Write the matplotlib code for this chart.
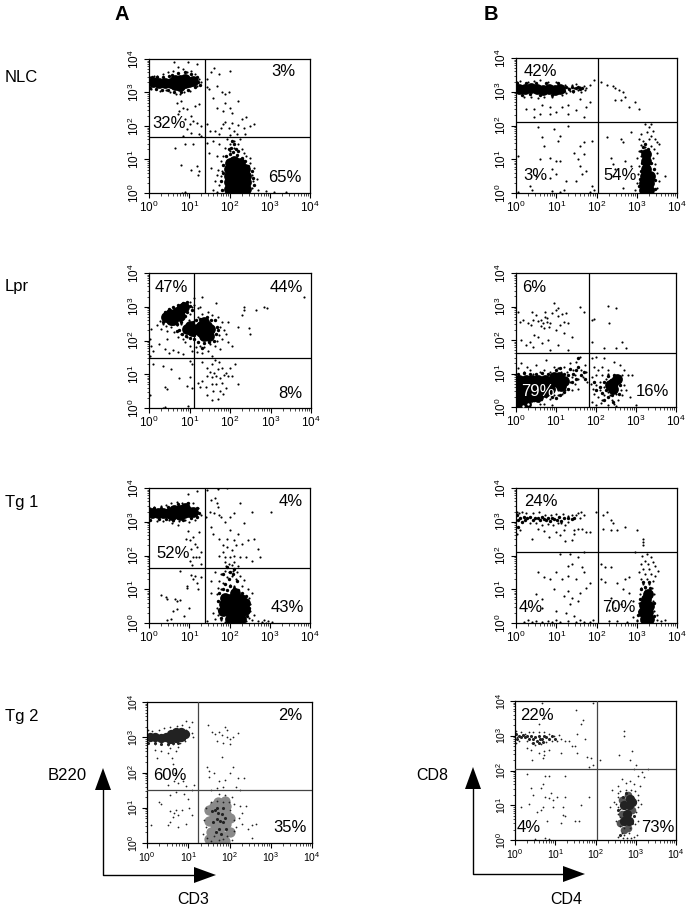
#!/usr/bin/env python3
# Flow cytometry panels, values as log10 decades
from matplotlib import pyplot as plt
from matplotlib.patches import Polygon
from matplotlib.ticker import LogLocator, NullFormatter
from numpy import array

plt.rcParams['font.family'] = ['Liberation Sans', 'DejaVu Sans']
plt.rcParams['mathtext.default'] = 'regular'

row_names = ["NLC", "Lpr", "Tg 1", "Tg 2"]

# gates (x, y) in decades
nlc_a_gate = (1.38, 1.66)
nlc_b_gate = (2.03, 2.09)
lpr_a_gate = (1.11, 1.48)
lpr_b_gate = (1.82, 1.60)
tg1_a_gate = (1.38, 1.63)
tg1_b_gate = (2.03, 2.11)
tg2_a_gate = (1.23, 1.49)
tg2_b_gate = (2.03, 2.04)

# core = solid middle of a population, fringe = crowded edge, dots = single events
nlc_a_core = [(0.1,3.3),(0.25,3.28),(0.4,3.27),(0.55,3.28),(0.65,3.22),(0.65,3.38),(0.78,3.2),(0.78,3.38),
              (0.9,3.27),(0.9,3.4),(1.0,3.3),(1.1,3.33),
              (1.98,0.12),(1.98,0.32),(1.98,0.52),(1.98,0.72),(2.0,0.9),(2.15,0.12),(2.15,0.32),(2.15,0.52),
              (2.15,0.72),(2.12,0.95),(2.3,0.12),(2.3,0.32),(2.3,0.52),(2.3,0.72),(2.27,0.9),(2.42,0.12),
              (2.42,0.32),(2.42,0.52),(2.38,0.72)]
nlc_a_fringe = [(0.03,3.12),(0.08,3.47),(0.18,3.1),(0.2,3.45),(0.32,3.08),(0.35,3.45),(0.47,3.07),(0.5,3.5),(0.58,3.52),
                (0.62,3.0),(0.72,3.58),(0.8,3.0),(0.9,3.6),(0.98,3.08),(1.05,3.55),(1.15,3.15),(1.22,3.3),(1.2,3.45),
                (1.27,3.22),(1.82,0.1),(1.8,0.35),(1.83,0.6),(1.85,0.85),(1.92,1.1),(2.0,1.17),(2.08,1.22),(2.18,1.14),
                (2.3,1.05),(2.38,0.95),(2.47,0.8),(2.55,0.65),(2.58,0.45),(2.6,0.25),(2.03,1.35),(2.1,1.45),(2.15,1.3),
                (2.07,1.55),(1.98,1.3),(2.22,1.25)]
nlc_a_dots = [(0.02,3.45),(0.05,3.1),(0.12,3.5),(0.2,3.5),(0.28,3.05),(0.35,3.55),(0.42,3.08),(0.48,3.6),(0.52,3.02),
              (0.6,3.65),(0.66,2.95),(0.72,3.75),(0.78,2.95),(0.85,3.7),(0.88,3.0),(0.95,3.62),(1.02,3.05),(1.05,3.65),
              (1.15,3.55),(1.2,3.2),(1.25,3.4),(1.3,3.3),(0.62,3.9),(0.98,3.9),(1.2,3.85),(0.8,2.75),(0.7,2.7),
              (0.75,2.45),(0.85,2.55),(0.95,2.5),(1.05,2.3),(1.15,2.6),(1.25,2.65),(0.72,2.35),(0.9,2.2),(1.02,2.05),
              (1.1,2.15),(1.2,2.1),(1.3,2.0),(0.95,1.9),(1.05,1.8),(1.25,1.75),(0.85,1.7),(1.3,1.7),
              (0.9,1.45),(0.65,1.35),(1.1,1.45),(0.8,0.85),(1.05,0.7),(1.25,0.65),(1.2,0.82),(1.22,0.55),
              (1.45,3.4),(1.5,3.1),(1.62,3.72),(1.68,3.2),(1.75,3.55),(1.55,3.6),(1.82,3.0),(1.9,2.95),(1.98,3.0),
              (2.0,3.65),(1.45,3.15),(1.6,2.85),(1.7,2.55),(1.9,2.7),(2.05,2.4),(2.0,2.55),(2.2,2.75),(1.85,2.45),
              (1.85,2.05),(1.9,2.12),(1.98,1.95),(2.05,2.1),(2.12,1.85),(2.2,2.02),(2.3,2.2),(2.35,1.95),(2.42,2.28),
              (2.5,2.0),(2.6,2.05),(1.45,2.05),(1.52,1.85),(1.65,1.85),(1.75,1.75),(1.8,1.95),(2.38,1.75),
              (1.95,1.6),(2.02,1.72),(2.1,1.55),(2.18,1.75),(2.25,1.6),(2.02,1.45),(2.12,1.35),(2.2,1.45),(2.3,1.3),
              (2.0,1.25),(1.9,1.35),(1.75,1.45),(1.6,1.55),(1.45,1.5),(2.35,1.2),(2.4,1.1),(2.5,1.05),(2.5,0.9),
              (2.6,0.75),(2.55,0.55),(2.58,0.35),(2.55,0.15),(2.68,0.42),(2.72,0.1),(2.9,0.05),(3.1,0.02),(3.4,0.03),
              (1.7,1.1),(1.78,0.95),(1.72,0.7),(1.78,0.5),(1.65,0.35),(1.75,0.25),(1.82,0.1),(1.6,0.1),(1.55,0.75),
              (1.5,1.2),(1.7,0.55),(1.84,0.85),(1.82,0.65),(1.85,1.1),(1.7,0.04),(0.82,0.01),(0.9,0.03)]

nlc_b_core = [(0.07,3.08),(0.22,3.08),(0.37,3.1),(0.52,3.08),(0.67,3.05),(0.82,3.08),(0.97,3.05),(1.1,3.08),
              (3.18,0.1),(3.3,0.1),(3.18,0.3),(3.3,0.3),(3.2,0.5),(3.32,0.5),(3.22,0.72),(3.24,0.95),(3.22,1.15)]
nlc_b_fringe = [(0.03,3.25),(0.15,2.9),(0.25,3.27),(0.35,2.92),(0.5,3.27),(0.6,2.9),(0.75,3.25),(0.9,2.9),(1.05,3.25),
                (1.2,3.02),(1.25,3.15),(1.32,3.07),(1.38,3.15),(1.42,3.03),(1.5,3.1),(1.55,3.15),(1.6,3.07),(1.65,3.12),
                (3.1,1.25),(3.3,1.2),(3.15,1.35),(3.28,1.3),(3.2,1.45),(3.12,0.9),(3.35,0.9),(3.42,0.7),(3.1,0.65),
                (3.46,0.4),(3.05,0.2),(3.46,0.12),(3.08,0.42)]
nlc_b_dots = [(0.03,3.3),(0.1,3.32),(0.2,2.85),(0.3,3.3),(0.38,2.85),(0.45,3.33),(0.55,2.82),(0.6,3.35),(0.7,2.85),
              (0.8,3.3),(0.9,2.85),(1.0,3.3),(1.15,2.9),(1.22,3.2),(1.25,2.95),(1.3,3.1),(1.35,3.02),(1.38,3.2),
              (1.42,2.98),(1.45,3.1),(1.5,3.22),(1.55,3.05),(1.6,3.15),(1.62,3.0),(1.68,3.18),(1.72,3.05),(1.75,3.12),
              (1.85,3.2),(1.6,2.8),(1.75,2.55),(1.5,2.45),(1.7,2.25),(1.3,2.6),(1.15,2.55),(0.85,2.55),(0.65,2.6),
              (0.45,2.5),(0.25,2.5),(0.45,2.25),(0.6,2.35),(0.85,2.35),(1.0,2.4),(1.3,2.35),(1.85,2.7),(1.95,3.35),
              (0.55,1.95),(0.95,1.9),(1.3,2.0),(0.65,1.65),(1.1,1.7),(1.05,1.55),(1.7,1.5),(1.6,1.4),(1.45,1.2),
              (1.55,1.0),(1.7,1.15),(1.9,1.55),(0.7,1.4),(0.05,1.1),(0.6,1.0),(0.85,1.05),(1.0,0.95),(0.9,0.7),
              (1.1,0.95),(0.85,0.45),(1.0,0.55),(0.5,0.5),(1.25,0.35),(1.5,0.35),(1.6,0.8),(1.65,0.55),(1.75,0.65),
              (0.4,0.1),(0.9,0.05),(1.1,0.02),(1.2,0.08),(1.9,0.2),(1.85,0.02),(1.95,0.1),(0.05,0.02),(0.35,0.2),
              (2.1,3.3),(2.25,3.2),(2.42,3.18),(2.45,3.12),(2.55,3.05),(2.65,3.0),(2.7,2.85),(2.45,2.75),(2.6,2.75),
              (2.8,2.55),(3.05,2.5),(2.95,2.7),(2.25,1.65),(2.6,1.6),(2.65,1.5),(2.85,1.8),(3.2,2.05),(3.35,2.05),
              (3.3,1.95),(3.4,1.85),(3.25,1.8),(3.1,1.75),(3.35,1.7),(3.05,1.6),(3.45,1.6),(3.15,1.55),(3.3,1.6),
              (3.5,1.5),(3.55,1.45),(3.1,1.42),(3.2,1.35),(3.35,1.4),(3.05,1.25),(3.42,1.3),(3.5,1.2),(3.0,1.05),
              (3.1,1.1),(3.4,1.05),(3.45,0.85),(3.5,0.6),(3.05,0.8),(3.02,0.55),(3.0,0.3),(3.55,0.35),(3.5,0.15),
              (2.95,0.1),(3.7,0.5),(2.35,1.05),(2.4,0.85),(2.45,0.7),(2.42,0.5),(2.7,0.95),(2.85,0.8),(2.65,0.15)]

lpr_a_core = [(0.42,2.7),(0.52,2.78),(0.6,2.62),(0.68,2.85),(0.76,2.72),(0.78,2.92),(0.87,2.98),(0.55,2.6),
              (1.28,2.25),(1.42,2.25),(1.28,2.42),(1.42,2.42),(1.5,2.33),(1.18,2.35),(1.35,2.12),(1.48,2.12),
              (1.35,2.55),(0.93,2.35),(1.05,2.28),(1.0,2.42)]
lpr_a_fringe = [(0.35,2.55),(0.4,2.85),(0.5,2.92),(0.6,3.0),(0.72,3.05),(0.85,3.12),(0.95,3.15),(1.0,3.02),(1.05,2.9),
                (0.95,2.85),(0.88,2.72),(0.8,2.55),(0.7,2.5),(0.75,2.3),(0.82,2.18),(0.92,2.12),(1.02,2.08),(1.12,2.05),
                (1.22,1.95),(1.35,1.92),(1.48,1.95),(1.6,2.0),(1.65,2.2),(1.68,2.4),(1.62,2.6),(1.52,2.62),(1.42,2.7),
                (1.25,2.65),(1.15,2.6),(1.08,2.55),(1.12,2.15),(1.3,1.78),(0.68,2.28),(1.7,2.3)]
lpr_a_dots = [(0.2,2.45),(0.28,2.58),(0.3,2.35),(0.35,2.5),(0.42,2.42),(0.45,2.28),(0.55,2.4),(0.62,2.25),(0.68,2.45),
              (0.72,2.1),(0.78,2.2),(0.85,2.05),(0.8,2.5),(0.9,1.95),(0.95,2.1),(1.02,1.85),(0.98,2.6),(1.0,2.8),
              (1.05,3.0),(1.1,3.05),(0.92,3.1),(1.02,3.15),(1.12,3.25),(1.2,2.95),(1.3,3.3),(1.25,3.0),(1.3,2.8),
              (1.2,2.7),(1.45,2.85),(1.55,2.75),(1.65,3.1),(1.7,2.7),(1.75,2.4),(1.8,2.55),(1.72,2.15),(1.85,2.3),
              (1.68,2.0),(1.8,2.05),(1.9,2.2),(1.95,1.95),(1.62,1.85),(1.75,1.75),(1.5,1.9),(1.35,1.8),(1.25,1.85),
              (1.15,1.8),(1.05,1.7),(1.18,1.65),(1.32,1.62),(1.45,1.7),(1.55,1.55),(1.95,2.55),(2.05,1.85),(2.2,2.4),
              (0.05,2.35),(0.03,2.05),(0.05,1.85),(0.1,1.7),(0.25,1.9),(0.4,1.75),(0.45,2.05),(0.5,1.62),(0.6,1.72),
              (0.72,1.65),(0.85,1.6),(0.02,1.55),(2.3,2.75),(2.35,2.9),(2.35,3.0),(2.65,2.9),(2.85,2.98),(2.92,2.95),
              (2.5,2.2),(2.48,2.38),(3.82,3.28),(0.1,1.3),(0.35,1.25),(0.55,1.15),(0.75,0.9),(1.0,0.92),(1.05,1.3),
              (1.0,1.4),(0.4,0.62),(0.45,0.55),(0.95,0.65),(1.05,0.6),(0.97,0.07),(0.4,0.03),(0.35,0.01),(0.02,0.4),
              (1.3,1.35),(1.42,1.2),(1.55,1.3),(1.62,1.42),(1.72,1.35),(1.8,1.18),(1.7,1.15),(1.6,1.05),(1.5,1.08),
              (1.42,0.95),(1.55,0.92),(1.65,0.95),(1.75,0.9),(1.85,0.98),(1.95,0.95),(2.05,0.95),(2.0,1.2),(2.12,1.3),
              (1.9,1.05),(2.2,0.7),(1.3,0.8),(1.2,0.75),(1.4,0.62),(1.55,0.72),(1.65,0.7),(1.8,0.75),(1.9,0.6),
              (1.75,0.5),(1.82,0.42),(1.58,0.5),(1.42,0.4),(1.55,0.25),(1.7,0.28),(1.25,0.62)]

lpr_b_core = [(0.08,0.08),(0.08,0.28),(0.08,0.48),(0.08,0.68),(0.08,0.82),(0.24,0.1),(0.24,0.3),(0.24,0.5),(0.24,0.7),(0.24,0.82),
              (0.4,0.3),(0.4,0.5),(0.4,0.7),(0.4,0.82),(0.56,0.3),(0.56,0.5),(0.56,0.7),(0.56,0.82),(0.72,0.45),(0.72,0.65),(0.72,0.82),
              (0.86,0.55),(0.88,0.75),(0.95,0.9),(1.02,0.75),(1.08,0.9),(1.12,0.62),(1.2,0.78),
              (2.42,0.72),(2.42,0.55),(2.52,0.85),(2.35,0.65)]
lpr_b_fringe = [(0.05,1.0),(0.2,1.02),(0.35,0.98),(0.5,1.0),(0.65,1.02),(0.8,1.0),(1.0,1.1),(1.1,1.15),(1.2,1.0),(1.3,0.95),
                (1.35,1.12),(1.42,1.0),(1.5,1.1),(1.55,1.2),(1.62,0.95),(1.7,1.05),(1.72,0.85),(1.4,0.75),(1.5,0.85),(1.3,0.55),
                (1.2,0.45),(1.1,0.35),(1.0,0.28),(0.9,0.3),(0.85,0.4),(1.55,1.45),(2.1,0.6),(2.15,0.42),(2.2,0.75),(2.25,0.5),
                (2.3,0.3),(2.4,0.35),(2.5,0.5),(2.6,0.65),(2.58,0.38),(2.45,0.95),(2.3,0.92),(2.0,0.5),(1.95,0.75),(2.2,0.22),(2.42,0.15)]
lpr_b_dots = [(0.05,1.15),(0.12,1.3),(0.2,1.05),(0.28,1.2),(0.35,1.1),(0.42,1.0),(0.5,1.25),(0.6,1.05),(0.7,1.1),
              (0.75,1.4),(0.85,1.05),(0.95,1.2),(1.05,1.15),(1.12,1.05),(1.2,1.2),(1.28,1.05),(1.35,1.3),(1.42,1.1),
              (1.48,0.95),(1.5,1.35),(1.55,0.85),(1.6,1.5),(1.62,1.1),(1.68,0.9),(1.72,1.25),(1.75,1.05),(1.78,0.75),
              (1.48,0.7),(1.4,0.9),(1.35,0.75),(1.3,0.95),(1.3,0.55),(1.4,0.5),(1.55,0.55),(1.22,0.5),(1.15,0.4),
              (1.05,0.35),(1.05,0.5),(0.95,0.35),(0.85,0.25),(0.75,0.3),(0.7,0.1),(0.9,0.05),(0.6,0.1),
              (1.9,1.45),(1.95,1.2),(2.0,1.5),(2.05,1.1),(2.15,1.2),(2.2,1.45),(2.3,1.1),(2.45,1.35),(2.6,1.25),(2.7,1.1),
              (2.8,0.95),(2.9,0.95),(2.65,0.95),(2.6,0.8),(2.7,0.65),(2.75,0.5),(2.62,0.5),(2.65,0.35),(2.5,0.4),
              (2.55,0.2),(2.4,0.2),(2.35,0.35),(2.3,0.05),(2.45,0.1),(2.3,0.45),(2.2,0.35),(2.15,0.2),(2.1,0.5),
              (2.2,0.6),(2.1,0.75),(2.0,0.65),(1.95,0.4),(2.05,0.3),(1.88,0.7),(1.9,0.9),(2.0,0.95),(2.15,0.95),
              (2.25,0.85),(2.3,0.98),(1.9,0.15),(2.0,0.05),(2.85,0.3),(3.0,0.05),(1.92,0.55),(2.12,0.12),(2.5,0.02),
              (0.05,2.85),(0.1,2.55),(0.18,2.6),(0.3,2.52),(0.38,2.45),(0.42,2.6),(0.4,2.85),(0.5,2.75),(0.55,2.58),
              (0.62,2.6),(0.68,2.5),(0.72,2.7),(0.72,2.85),(0.78,2.65),(0.85,2.5),(0.82,2.4),(0.7,2.35),(0.62,2.42),
              (0.78,2.55),(0.9,2.8),(1.0,2.9),(1.05,2.72),(1.15,2.78),(1.25,2.82),(1.2,2.55),(1.1,2.45),(1.0,2.3),
              (1.2,2.2),(1.3,2.5),(0.95,3.1),(1.05,2.95),(1.6,3.0),(1.7,2.85),(0.45,2.15),(0.55,2.1),(0.8,2.0),
              (0.65,1.9),(0.35,1.95),(0.25,1.85),(0.12,2.0),(0.42,1.8),(0.85,1.7),(1.4,2.1),(1.3,1.7),(1.05,1.85),
              (1.9,2.6),(1.95,2.62),(2.3,3.02),(2.32,2.5),(2.5,2.95),(1.9,1.95),(2.2,1.75),(2.5,1.75),(2.65,1.95),(2.75,1.75)]
lpr_b_holes = [(0.3,0.08),(0.42,0.12),(0.62,0.15),(0.72,0.2),(0.78,0.25),(0.18,0.04),(0.85,0.15),(0.5,0.06)]

tg1_a_core = [(0.08,3.25),(0.22,3.25),(0.36,3.25),(0.5,3.27),(0.58,3.2),(0.62,3.35),(0.76,3.2),(0.76,3.36),(0.88,3.27),(0.9,3.4),(1.0,3.28),(1.1,3.3),
              (1.85,0.35),(1.87,0.55),(1.88,0.75),(2.0,0.12),(2.0,0.32),(2.0,0.52),(2.0,0.72),(2.14,0.12),(2.14,0.32),
              (2.14,0.52),(2.14,0.72),(2.14,0.88),(2.28,0.12),(2.28,0.32),(2.28,0.52),(2.28,0.72),(2.38,0.4),(2.38,0.6)]
tg1_a_fringe = [(0.03,3.05),(0.12,3.42),(0.25,3.08),(0.3,3.42),(0.42,3.08),(0.48,3.45),(0.6,3.05),(0.72,3.52),(0.85,3.05),
                (0.98,3.55),(1.05,3.1),(1.2,3.15),(1.23,3.25),(1.2,3.42),(1.8,0.15),(1.75,0.4),(1.72,0.65),(1.75,0.9),
                (1.85,1.0),(1.95,0.98),(2.0,1.1),(2.1,1.05),(2.2,0.98),(2.3,0.9),(2.42,0.8),(2.48,0.45),(2.44,0.2),
                (1.9,1.15),(1.98,1.3),(2.02,1.5),(2.1,1.6),(1.95,1.65),(2.08,1.45),(1.85,1.45),(2.18,1.25)]
tg1_a_dots = [(0.03,3.42),(0.12,3.45),(0.2,3.02),(0.3,3.48),(0.35,3.02),(0.42,3.5),(0.5,3.05),(0.55,3.55),(0.6,3.02),
              (0.7,3.6),(0.75,3.02),(0.82,3.55),(0.9,3.05),(0.95,3.55),(1.0,3.0),(1.1,3.55),(1.15,3.05),(1.22,3.4),
              (1.28,3.2),(0.98,3.82),(1.2,3.9),(0.58,2.95),(0.72,2.9),(0.98,2.72),(1.1,2.55),(1.25,2.7),(1.15,2.35),
              (0.92,2.5),(1.02,2.45),(1.05,2.2),(1.2,2.25),(1.1,1.95),(1.25,1.95),(1.3,2.1),(1.02,1.85),(1.3,1.75),
              (1.08,1.72),(1.18,1.95),(0.78,1.55),(1.05,1.42),(1.1,1.3),(1.15,1.38),(0.95,1.1),(1.22,1.02),
              (0.95,1.05),(1.2,1.2),(1.3,1.35),(0.3,0.82),(0.42,0.78),(0.45,0.7),(0.65,0.72),(0.7,0.65),(0.78,0.68),
              (0.6,0.35),(0.7,0.42),(0.88,0.22),(0.45,0.1),(0.55,0.12),(1.0,0.45),
              (1.45,3.95),(1.72,3.98),(1.95,4.0),(1.65,3.7),(1.7,3.55),(1.55,3.65),(1.72,3.45),(1.52,3.3),(1.62,3.25),
              (1.75,3.2),(2.25,3.55),(2.1,3.25),(2.0,3.15),(1.8,3.15),(2.55,3.3),(3.02,3.3),(1.42,3.15),(1.55,2.85),
              (1.9,3.0),(2.0,2.75),(2.2,2.65),(2.35,2.95),(2.3,2.35),(2.45,2.45),(2.6,2.5),(2.1,2.45),(1.95,2.5),
              (1.85,2.3),(1.6,2.65),(1.75,2.5),(1.95,2.25),(2.05,2.15),(2.15,2.3),(1.85,2.1),(1.75,2.0),(1.9,1.95),
              (2.0,1.95),(2.1,2.0),(2.25,1.95),(2.4,1.95),(2.75,1.95),(2.72,2.2),(2.55,1.85),(1.88,1.82),(1.92,1.7),
              (1.98,1.75),(2.05,1.72),(2.12,1.82),(2.2,1.7),(1.9,1.55),(1.98,1.5),(2.08,1.55),(2.18,1.52),(1.95,1.35),
              (2.05,1.38),(2.15,1.3),(2.25,1.38),(2.35,1.28),(1.78,1.45),(1.65,1.5),(1.55,1.25),(1.75,1.25),(1.85,1.2),
              (1.72,1.05),(1.8,1.0),(2.0,1.12),(2.12,1.1),(2.3,1.1),(2.45,1.0),(2.55,0.9),(2.48,0.75),(2.52,0.55),
              (2.5,0.35),(2.48,0.15),(2.55,0.1),(2.4,0.05),(2.62,0.25),(1.7,0.85),(1.72,0.65),(1.68,0.45),(1.72,0.25),
              (1.6,0.3),(1.65,0.12),(1.8,0.1),(1.45,0.05),(1.9,0.03),(2.0,0.05),(2.15,0.03),(2.3,0.08),(2.7,0.05),
              (2.8,0.03),(2.9,0.01),(2.95,0.06),(3.05,0.02),(2.85,0.08),(1.55,0.9)]

tg1_b_core = [(3.2,0.12),(3.3,0.12),(3.15,0.32),(3.28,0.32),(3.18,0.52),(3.3,0.5),(3.22,0.72),(3.28,0.85)]
tg1_b_fringe = [(0.03,3.2),(0.05,3.05),(0.05,2.85),(0.1,3.1),(0.15,3.0),(0.2,3.15),(0.22,3.05),(0.28,3.1),(0.35,3.15),
                (0.42,3.05),(0.48,3.12),(0.55,3.1),(0.6,3.05),(0.65,3.15),(0.7,3.08),(0.75,3.05),(0.8,3.12),(0.85,3.03),
                (0.9,3.12),(0.95,3.08),(1.02,3.05),(1.08,3.15),(1.12,3.02),(1.2,3.1),(1.28,3.1),(1.38,3.08),(1.45,3.12),
                (3.1,1.0),(3.2,1.08),(3.32,1.05),(3.15,1.22),(3.3,1.22),(3.08,0.7),(3.42,0.6),(3.02,0.25),(3.44,0.2)]
tg1_b_dots = [(0.02,3.3),(0.08,3.25),(0.15,3.3),(0.25,3.25),(0.35,2.95),(0.42,3.25),(0.5,2.95),(0.58,3.28),(0.65,2.9),
              (0.72,3.2),(0.8,2.92),(0.88,3.2),(0.92,2.9),(1.0,3.22),(1.05,2.95),(1.12,2.95),(1.18,3.22),(1.22,2.9),
              (1.3,3.18),(1.3,3.0),(1.38,3.2),(1.5,3.2),(1.55,3.25),(1.58,3.1),(1.62,3.28),(1.7,3.2),(1.98,3.28),
              (0.03,2.65),(0.1,2.75),(0.4,2.5),(0.55,2.8),(0.7,2.72),(0.82,2.55),(1.0,2.7),(1.1,2.6),(1.2,2.75),
              (1.22,2.42),(1.4,2.45),(1.45,2.75),(1.55,2.8),(1.65,2.8),(1.75,2.7),(1.85,2.7),(1.68,2.1),(1.45,2.65),
              (2.15,3.2),(2.25,3.3),(2.35,3.05),(2.4,2.95),(2.5,2.75),(2.7,2.85),(3.0,2.75),(2.15,2.8),(2.35,2.75),
              (3.15,2.5),(3.15,2.4),(2.95,2.1),(3.15,2.3),
              (1.1,2.05),(1.35,2.05),(1.55,1.95),(1.3,1.7),(1.65,1.65),(1.4,1.75),(1.0,1.5),(1.15,1.3),(1.3,1.4),
              (0.55,1.5),(0.7,1.35),(0.85,1.3),(1.7,1.5),(1.85,1.2),(1.75,1.05),(1.6,0.9),(1.5,1.3),(1.2,0.8),
              (0.95,1.0),(1.3,0.95),(1.55,0.65),(1.35,0.55),(1.4,0.75),(0.5,0.85),(0.65,0.7),(0.65,0.45),(1.0,0.35),
              (1.25,0.3),(1.45,0.2),(0.8,0.05),(0.3,0.1),(0.5,0.05),(0.65,0.02),(1.1,0.03),(1.3,0.05),(1.5,0.04),
              (1.7,0.03),(1.85,0.02),(1.92,0.1),(0.9,0.02),(0.4,0.03),(0.2,0.02),(1.0,0.1),(1.6,0.1),
              (2.1,1.75),(2.2,1.65),(2.35,1.65),(2.12,1.3),(2.2,1.22),(2.5,1.2),(2.7,1.3),(2.8,1.35),(2.65,1.0),
              (2.35,0.75),(2.4,0.62),(2.3,0.4),(2.45,0.45),(2.9,0.65),(2.8,0.9),(2.6,0.55),(2.3,0.05),(2.5,0.07),
              (2.75,0.03),(3.0,0.06),(2.9,0.18),
              (3.12,2.0),(3.25,2.05),(3.35,1.95),(3.2,1.85),(3.4,1.8),(3.1,1.75),(3.28,1.75),(3.45,1.7),(3.15,1.6),
              (3.3,1.6),(3.52,1.55),(3.05,1.5),(3.2,1.45),(3.35,1.45),(3.45,1.4),(3.1,1.3),(3.25,1.3),(3.4,1.25),
              (3.15,1.15),(3.3,1.15),(3.1,1.05),(3.2,1.05),(3.38,1.05),(3.08,0.85),(3.42,0.85),(3.4,0.65),(3.05,0.6),
              (3.05,0.35),(3.42,0.35),(3.5,0.25),(3.0,0.1),(3.5,0.1),(3.6,0.05),(3.7,0.1),(3.1,0.05)]

tg2_a_core = [(0.07,3.0),(0.2,3.0),(0.33,2.98),(0.46,3.0),(0.55,2.95),(0.58,3.08),(0.7,2.98),(0.7,3.15),(0.82,3.02),(0.82,3.16),(0.92,3.1)]
tg2_a_shade = [(1.5,0.95),(1.62,1.05),(1.62,0.78),(1.78,0.95),(1.78,0.72),(1.92,1.05),(1.92,0.82),(1.5,0.62),
               (1.65,0.5),(1.8,0.45),(1.92,0.55),(1.55,0.3),(1.7,0.22),(1.85,0.2),(2.0,0.3),(1.5,0.1),(1.7,0.05),(1.9,0.05),
               (2.02,0.72),(1.72,1.15),(1.88,1.18)]
tg2_a_fringe = [(1.72,0.85),(1.78,0.62),(1.82,0.82),(1.7,0.68),(1.85,0.6),(1.65,0.95),(1.58,0.9),(1.9,0.72),(1.75,0.4),(1.68,0.3),
                (1.8,0.25),(1.7,1.0),(1.85,1.0),(1.6,0.6),(1.92,0.4),(0.03,2.85),(0.2,2.85),(0.35,2.82),(0.5,2.82),(0.62,2.85),(0.75,2.85),(0.9,2.95)]
tg2_a_dots = [(0.03,3.2),(0.12,3.18),(0.2,2.82),(0.28,3.2),(0.35,2.8),(0.42,3.25),(0.5,2.78),(0.55,3.28),(0.62,2.8),
              (0.72,3.32),(0.8,2.85),(0.85,3.35),(0.92,2.9),(0.95,3.2),(1.0,3.05),(1.03,3.3),(1.08,3.12),(1.12,3.0),
              (1.1,3.42),(0.95,3.45),(0.2,2.65),(0.35,2.6),(0.5,2.55),(0.55,2.7),(0.7,2.6),(0.75,2.72),(0.62,2.25),
              (0.25,2.4),(0.6,2.4),(0.68,2.0),(0.65,1.75),(0.5,1.65),(0.75,1.7),(0.88,1.75),(0.95,1.62),(1.15,1.65),
              (1.1,1.5),(0.7,1.45),(0.9,1.4),(0.55,1.35),(1.0,1.25),(0.28,1.15),(0.35,1.1),(0.55,0.9),(0.65,0.85),
              (0.7,0.95),(0.85,0.95),(0.75,0.8),(0.62,0.75),(0.55,0.6),(0.1,0.5),(0.75,0.45),(0.5,0.5),(0.95,0.55),
              (1.03,1.0),(1.1,0.8),
              (1.48,3.35),(1.58,3.15),(1.65,3.08),(1.75,3.15),(1.82,3.05),(1.9,3.28),(1.95,3.2),(1.95,3.0),(2.02,2.95),
              (2.08,3.0),(2.2,3.12),(1.7,2.9),(1.85,2.85),(2.0,2.82),(1.82,2.45),(1.45,2.15),(1.5,2.05),(1.62,2.0),
              (1.5,1.88),(1.75,1.75),(1.9,1.8),(2.02,2.0),(2.08,2.15),(2.2,1.85),(2.35,1.85),(2.15,1.6),(1.85,1.6),
              (1.7,1.55),(1.55,1.5),(2.25,1.5),(1.75,1.38),(1.9,1.35),(2.05,1.3),(1.7,1.2),(1.85,1.15),(1.55,1.15),
              (1.98,1.15),(2.12,1.1),(2.25,1.05),(2.4,1.05),(2.0,0.95),(1.42,1.0),(1.38,0.65),(1.42,0.45),(1.35,0.25),
              (1.45,0.15),(1.55,0.05),(1.62,0.2),(1.75,0.08),(1.85,0.1),(1.95,0.2),(2.05,0.08),(2.1,0.35),(2.15,0.45),
              (2.12,0.65),(2.22,0.7),(2.3,0.55),(2.3,0.85),(2.45,0.4),(2.55,0.15),(2.55,0.5),(2.65,0.55)]

tg2_b_core = [(2.7,1.0),(2.82,1.0),(2.9,1.1),(2.78,0.75),(2.72,0.55),(2.82,0.55),(2.85,1.18)]
tg2_b_shade = [(2.65,1.15),(2.65,0.75),(2.9,0.85),(2.62,0.5),(2.8,1.3),(2.72,0.3),(2.8,0.35)]
tg2_b_fringe = [(0.02,3.05),(0.05,2.92),(0.1,3.0),(0.15,2.95),(0.2,3.02),(0.25,2.95),(0.3,3.0),(0.35,2.92),(0.4,2.98),(0.45,2.9),
                (0.5,2.95),(0.55,2.85),(0.6,3.0),(0.62,2.9),(0.68,2.92),(0.72,3.0),(0.78,2.95),(0.85,2.92),(0.92,2.98),(1.0,2.92),
                (0.45,2.8),(0.6,2.78),(0.7,2.82),(2.68,1.25),(2.75,1.35),(2.9,1.25),(2.98,1.1),(2.55,0.85),(2.95,0.7),(2.9,0.5),(2.62,0.15)]
tg2_b_dots = [(0.02,3.15),(0.05,2.95),(0.02,2.8),(0.1,2.85),(0.15,3.1),(0.25,3.05),(0.3,2.85),(0.35,3.12),(0.42,2.78),
              (0.45,3.1),(0.5,2.72),(0.6,3.12),(0.65,2.75),(0.72,3.1),(0.78,2.82),(0.85,3.05),(0.92,2.85),(0.98,3.0),
              (1.05,2.85),(1.1,3.02),(1.15,2.9),(1.25,2.85),(1.35,2.85),(1.42,2.7),(1.5,2.7),(1.55,3.05),(1.65,3.35),
              (1.7,3.45),(1.75,2.9),(1.52,3.75),(0.72,3.5),(0.6,3.35),(0.3,2.65),(0.4,2.6),(0.6,2.5),(0.72,2.45),
              (0.85,2.6),(0.7,2.35),(0.42,2.3),(1.15,2.5),(1.55,2.5),(1.8,2.4),(1.9,2.35),(1.95,2.15),(1.85,2.1),
              (0.68,3.95),(1.95,3.95),(0.72,2.55),
              (0.3,1.9),(0.75,1.85),(0.85,1.85),(1.25,1.85),(0.7,1.6),(0.65,1.5),(0.4,1.5),(0.9,1.35),(1.05,1.25),
              (0.85,1.2),(0.95,1.15),(0.75,1.25),(0.45,1.3),(0.35,1.05),(0.7,0.95),(0.95,0.95),(1.2,0.95),(1.25,1.25),
              (1.65,1.0),(1.85,1.25),(0.15,0.95),(0.55,0.8),(0.65,0.85),(1.2,0.72),(1.25,0.68),(0.8,0.55),(1.5,0.55),
              (1.6,0.55),(1.15,0.5),(0.75,0.05),(0.85,0.03),(0.5,0.03),
              (2.1,2.3),(2.72,3.15),(2.72,3.0),(2.58,2.45),(2.9,2.55),(2.85,2.3),(3.0,2.15),(2.95,2.05),(3.3,2.05),
              (3.15,1.95),(3.05,1.85),(3.2,1.8),(2.65,1.75),(2.75,1.65),(2.85,1.7),(2.95,1.6),(3.1,1.55),(2.55,1.55),
              (2.4,1.45),(2.55,1.35),(2.62,1.4),(2.75,1.45),(2.88,1.45),(2.98,1.4),(3.05,1.3),(2.55,1.25),(2.65,1.25),
              (3.05,1.15),(3.12,1.05),(2.52,1.05),(2.55,0.95),(2.6,0.9),(3.05,0.95),(3.0,0.8),(2.55,0.75),(2.6,0.65),
              (2.52,0.55),(2.62,0.4),(2.72,0.35),(2.85,0.35),(2.98,0.45),(3.05,0.55),(2.65,0.2),(2.72,0.15),(2.82,0.2),
              (2.55,0.1),(2.68,0.05),(2.78,0.05),(2.88,0.05),(2.95,0.1),(3.02,0.15),(2.45,1.1),(2.35,0.95)]

panel_gates = [nlc_a_gate, nlc_b_gate, lpr_a_gate, lpr_b_gate, tg1_a_gate, tg1_b_gate, tg2_a_gate, tg2_b_gate]
panel_cores = [nlc_a_core, nlc_b_core, lpr_a_core, lpr_b_core, tg1_a_core, tg1_b_core, tg2_a_core, tg2_b_core]
panel_fringes = [nlc_a_fringe, nlc_b_fringe, lpr_a_fringe, lpr_b_fringe, tg1_a_fringe, tg1_b_fringe, tg2_a_fringe, tg2_b_fringe]
panel_dots = [nlc_a_dots, nlc_b_dots, lpr_a_dots, lpr_b_dots, tg1_a_dots, tg1_b_dots, tg2_a_dots, tg2_b_dots]

percent_labels = [("3%", 283, 72), ("32%", 169, 123), ("65%", 285, 178),
                  ("42%", 540, 72), ("3%", 535, 176), ("54%", 620, 176),
                  ("47%", 171, 287), ("44%", 286, 287), ("8%", 290, 393),
                  ("6%", 534, 287), ("16%", 652, 392),
                  ("4%", 291, 502), ("52%", 173, 554), ("43%", 287, 608),
                  ("24%", 541, 502), ("4%", 531, 607), ("70%", 619, 607),
                  ("2%", 290, 716), ("60%", 170, 775), ("35%", 290, 827),
                  ("22%", 537, 715), ("4%", 529, 827), ("73%", 658, 827)]

panel_pixels = [(149, 310, 59, 193), (516, 677, 58, 193),
                (149, 311, 273, 408), (516, 676, 273, 407),
                (149, 310, 488, 623), (516, 677, 488, 623),
                (147, 312, 702, 843), (515, 676, 701, 840)]
fig_w, fig_h = 690, 909


def scatter_decades(ax, points, size, color="black", zorder=2):
    xs = array([p[0] for p in points])
    ys = array([p[1] for p in points])
    ax.scatter(10.0 ** xs, 10.0 ** ys, s=size, c=color, marker="o", linewidths=0, zorder=zorder)


def make_panel(box, gate, core, fringe, dots, faded):
    left, right, top, bottom = box
    ax = fig.add_axes([left / fig_w, 1 - bottom / fig_h, (right - left) / fig_w, (bottom - top) / fig_h])
    ax.set_xscale("log")
    ax.set_yscale("log")
    ax.set_xlim(1, 1e4)
    ax.set_ylim(1, 1e4)

    ticks = [1, 10, 100, 1000, 10000]
    labels = ["$10^{%d}$" % i for i in range(5)]
    ax.set_xticks(ticks, labels)
    ax.set_yticks(ticks, labels)
    for axis in (ax.xaxis, ax.yaxis):
        axis.set_minor_locator(LogLocator(base=10, subs=range(2, 10), numticks=20))
        axis.set_minor_formatter(NullFormatter())
    size = 7.5 if faded else 8.5
    ax.tick_params(axis="both", which="major", length=3.5, width=0.8, pad=1.5, labelsize=size)
    ax.tick_params(axis="both", which="minor", length=1.8, width=0.5)
    for label in ax.get_yticklabels():
        label.set_rotation(90)
        label.set_va("center")
    for spine in ax.spines.values():
        spine.set_linewidth(0.9)

    line_color = "#444444" if faded else "black"
    ax.axvline(10 ** gate[0], color=line_color, lw=0.9, zorder=4)
    ax.axhline(10 ** gate[1], color=line_color, lw=0.9, zorder=4)

    dot_color = "#222222" if faded else "black"
    scatter_decades(ax, core, 45 if faded else 60, color=dot_color)
    scatter_decades(ax, fringe, 5 if faded else 6, color=dot_color)
    scatter_decades(ax, dots, 1.6 if faded else 2.4, color=dot_color)
    return ax


fig = plt.figure(figsize=(fig_w / 100, fig_h / 100), dpi=100)

axes = []
for i in range(8):
    axes.append(make_panel(panel_pixels[i], panel_gates[i], panel_cores[i], panel_fringes[i], panel_dots[i], i >= 6))

# the paler populations of Tg 2 and the white specks in the Lpr CD4- CD8- block
scatter_decades(axes[6], tg2_a_shade, 55, color="#8a8a8a", zorder=1)
scatter_decades(axes[7], tg2_b_shade, 30, color="#555555", zorder=1)
scatter_decades(axes[3], lpr_b_holes, 3, color="white", zorder=3)

# page level labels and arrows, in pixels
page = fig.add_axes([0, 0, 1, 1], facecolor="none")
page.set_xlim(0, fig_w)
page.set_ylim(fig_h, 0)
page.axis("off")

page.text(122, 15, "A", fontsize=14.5, fontweight="bold", ha="center", va="center")
page.text(491, 15, "B", fontsize=14.5, fontweight="bold", ha="center", va="center")

for name, y in zip(row_names, [77, 286, 503, 716]):
    page.text(5, y, name, fontsize=12, ha="left", va="center")

for text, x, y in percent_labels:
    page.text(x, y, text, fontsize=12, ha="center", va="center")
page.text(538, 392, "79%", fontsize=12, ha="center", va="center", color="white", zorder=5)

page.text(48, 775, "B220", fontsize=12, ha="left", va="center")
page.text(193, 899, "CD3", fontsize=11.5, ha="center", va="center")
page.text(416, 775, "CD8", fontsize=11.5, ha="left", va="center")
page.text(566, 899, "CD4", fontsize=11.5, ha="center", va="center")

for x0, y0, top_tip, right_tip in [(103, 875, 768, 216), (473, 874, 767, 585)]:
    page.plot([x0, x0, right_tip - 20], [top_tip + 20, y0, y0], color="black", lw=1.0)
    page.add_patch(Polygon([(x0, top_tip), (x0 - 8, top_tip + 22), (x0 + 8, top_tip + 22)], color="black", lw=0))
    page.add_patch(Polygon([(right_tip, y0), (right_tip - 22, y0 - 8), (right_tip - 22, y0 + 8)], color="black", lw=0))

fig.savefig("out.png", dpi=100)
